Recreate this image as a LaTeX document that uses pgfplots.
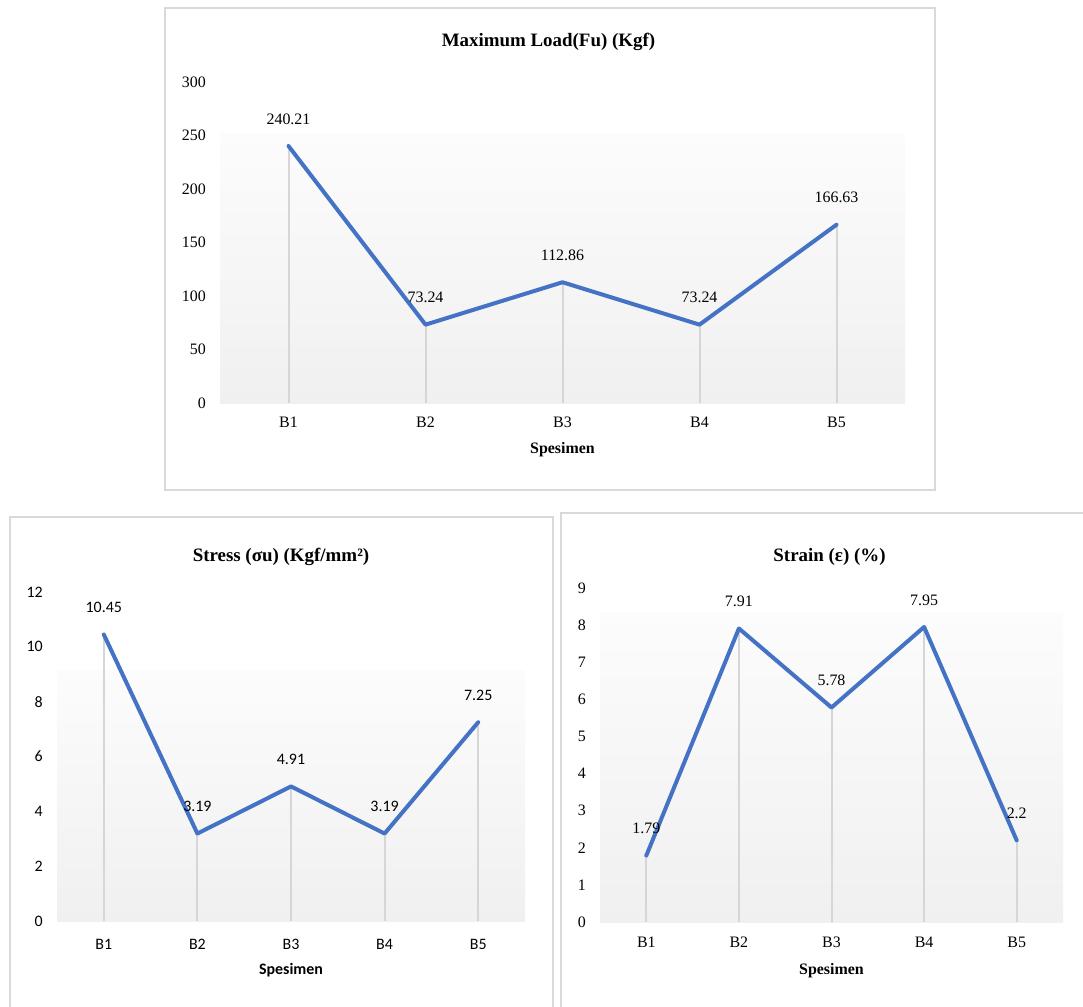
\documentclass[border=0pt]{standalone}
\usepackage{fontspec}
\setmainfont{Liberation Serif}
\newfontfamily\calibri{Carlito}
\usepackage{pgfplots}
\usepackage{pgfplotstable}
\pgfplotsset{compat=1.18}
\usetikzlibrary{shadings}

\definecolor{lineblue}{HTML}{4472C4}
\definecolor{axisgray}{HTML}{D9D9D9}
\definecolor{dropgray}{HTML}{D6D6D6}
\definecolor{framegray}{HTML}{D9D9D9}
\definecolor{bgtop}{HTML}{FCFCFC}
\definecolor{bgbot}{HTML}{F0F0F0}

\pgfplotstableread{
x y lab
1 240.21 240.21
2 73.24 73.24
3 112.86 112.86
4 73.24 73.24
5 166.63 166.63
}\loaddata

\pgfplotstableread{
x y lab
1 10.45 10.45
2 3.19 3.19
3 4.91 4.91
4 3.19 3.19
5 7.25 7.25
}\stressdata

\pgfplotstableread{
x y lab
1 1.79 1.79
2 7.91 7.91
3 5.78 5.78
4 7.95 7.95
5 2.2 2.2
}\straindata

\newcommand{\fs}{\fontsize{16}{19}\selectfont}

\pgfplotsset{
  base/.style={
    scale only axis, clip=false,
    xmin=0.5, xmax=5.5,
    xtick={1,2,3,4,5}, xticklabels={B1,B2,B3,B4,B5},
    axis lines=left,
    y axis line style={draw=none},
    x axis line style={draw=axisgray, line width=2bp, -},
    major tick length=0pt,
    /pgf/number format/assume math mode=true,
    yticklabel style={anchor=east, inner sep=0pt, xshift=-14bp},
    xticklabel style={anchor=center, inner sep=0pt, yshift=-20bp},
    xlabel style={at={(0.5,0)}, anchor=center, yshift=-46bp},
    title style={at={(0.5,1)}, anchor=center, yshift=34bp, font=\bfseries\fontsize{19}{22}\selectfont},
  },
  drop/.style={ycomb, draw=dropgray, line width=2bp, mark=none},
  mainline/.style={draw=lineblue, line width=4bp, line join=round, line cap=round, mark=none,
    nodes near coords, point meta=explicit symbolic,
    nodes near coords style={anchor=center, inner sep=0pt, yshift=27bp, text=black}},
}

\begin{document}
\begin{tikzpicture}
\begin{scope}[x=1bp, y=-1bp]
\useasboundingbox (0,0) rectangle (1083,1007);
\draw[framegray, line width=1.5bp] (165,8) rectangle (935,490);
\draw[framegray, line width=1.5bp] (10,517) rectangle (553,1020);
\draw[framegray, line width=1.5bp] (561,513) rectangle (1100,1020);
\end{scope}

% top chart
\begin{axis}[base, at={(220bp,-403bp)}, anchor=south west,
  width=685bp, height=321bp,
  ymin=0, ymax=300, ytick={0,50,...,300},
  ticklabel style={font=\fs},
  xlabel={\fs\bfseries Spesimen}, xlabel style={yshift=-1bp},
  title={Maximum Load(Fu) (Kgf)}, title style={xshift=-14bp},
  xticklabel style={yshift=1bp}]
  \fill[top color=bgtop, bottom color=bgbot] (axis cs:0.5,0) rectangle (axis cs:5.5,252);
  \addplot[drop] table[x=x,y=y]{\loaddata};
  \addplot[mainline, nodes near coords style={font=\fs}] table[x=x,y=y,meta=lab]{\loaddata};
\end{axis}

% bottom left chart
\begin{axis}[base, at={(57bp,-921bp)}, anchor=south west,
  width=468bp, height=329bp,
  ymin=0, ymax=12, ytick={0,2,...,12},
  ticklabel style={font=\calibri\fs},
  xlabel={\calibri\fs\bfseries Spesimen}, xlabel style={yshift=-3bp},
  title={Stress (σu) (Kgf/mm²)}, title style={xshift=-10bp, yshift=-5bp},
  xticklabel style={yshift=-3bp}]
  \fill[top color=bgtop, bottom color=bgbot] (axis cs:0.5,0) rectangle (axis cs:5.5,9.15);
  \addplot[drop] table[x=x,y=y]{\stressdata};
  \addplot[mainline, nodes near coords style={font=\calibri\fs}] table[x=x,y=y,meta=lab]{\stressdata};
\end{axis}

% bottom right chart
\begin{axis}[base, at={(600bp,-922bp)}, anchor=south west,
  width=463bp, height=334bp,
  ymin=0, ymax=9, ytick={0,1,...,9},
  ticklabel style={font=\fs},
  xlabel={\fs\bfseries Spesimen}, xlabel style={yshift=-3bp},
  title={Strain (ε) (\%)}, title style={xshift=-2bp, yshift=-9bp}]
  \fill[top color=bgtop, bottom color=bgbot] (axis cs:0.5,0) rectangle (axis cs:5.5,8.35);
  \addplot[drop] table[x=x,y=y]{\straindata};
  \addplot[mainline, nodes near coords style={font=\fs}] table[x=x,y=y,meta=lab]{\straindata};
\end{axis}
\end{tikzpicture}
\end{document}
